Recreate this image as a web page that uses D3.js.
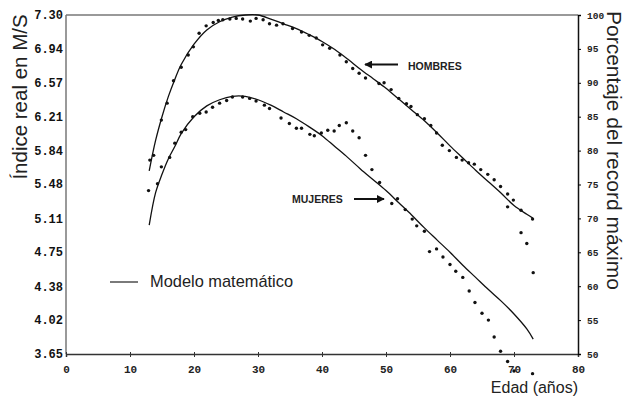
<!DOCTYPE html>
<html>
<head>
<meta charset="utf-8">
<script src="https://cdn.jsdelivr.net/npm/d3@7"></script>
<style>
  html, body { margin: 0; padding: 0; background: #fff; }
  svg { display: block; }
</style>
</head>
<body>
<div id="chart"></div>
<script>
// Model curves (percent of maximum record) by age
const modelAge = [13, 14, 15, 16, 17, 18, 20, 22, 24, 26, 28, 30, 32, 34, 36, 38, 40, 42, 44, 46, 48, 50, 52, 54, 56, 58, 60, 62, 64, 66, 68, 70, 72, 73];
const menModel = [77, 81.5, 85, 88, 90.5, 92.7, 95.7, 97.8, 99, 99.7, 100, 100, 99.4, 98.7, 98.0, 97.1, 96.1, 94.9, 93.5, 92.0, 90.6, 89.2, 87.6, 86.0, 84.4, 82.6, 80.7, 78.9, 77.1, 75.4, 73.7, 71.9, 70.6, 70.0];
const womenModel = [69, 73.8, 76.5, 78.8, 80.6, 82.5, 85, 86.6, 87.5, 88, 88, 87.5, 86.7, 85.7, 84.7, 83.5, 82.2, 80.6, 79.0, 77.3, 75.7, 74.1, 72.3, 70.5, 68.6, 66.8, 65.0, 63.1, 61.3, 59.5, 57.8, 55.9, 53.7, 52.2];

// Observed records (dots)
const menAge = [13.1, 13.7, 14.9, 15.8, 16.8, 18.0, 19.1, 19.9, 20.8, 21.9, 23.0, 23.8, 24.5, 25.6, 26.6, 27.6, 28.8, 29.7, 30.8, 31.8, 32.9, 33.9, 35.4, 36.8, 38.0, 39.1, 40.1, 41.2,
  42.8, 43.8, 44.8, 45.8, 46.8, 48.9, 49.7, 50.8, 52.0, 53.2, 53.9, 54.9, 56.0, 57.0, 57.9, 58.8, 59.9, 61.0, 61.9, 62.9, 63.8, 64.8, 65.9, 66.9, 67.9, 69.0, 69.9, 71.1, 72.9,
  69.0, 71.1, 72.0, 73.0];
const menPct = [78.6, 79.3, 84.5, 87.0, 90.3, 92.3, 94.1, 95.3, 97.3, 98.4, 98.9, 99.2, 99.3, 99.4, 99.5, 99.4, 99.1, 99.5, 99.3, 98.7, 98.5, 98.7, 98.0, 97.5, 97.0, 96.6, 95.6, 95.1,
  94.1, 93.1, 92.1, 91.4, 90.7, 89.9, 90.0, 89.0, 87.7, 86.9, 86.5, 85.3, 84.7, 83.7, 82.6, 80.8, 80.0, 79.0, 78.6, 78.2, 78.0, 77.2, 76.5, 75.7, 74.7, 73.6, 72.7, 71.2, 69.9,
  71.7, 67.9, 66.3, 62.0];

const womenAge = [12.9, 14.3, 14.9, 16.2, 17.0, 18.0, 18.7, 19.8, 20.9, 21.9, 22.9, 24.0, 25.1, 26.0, 27.6, 28.7, 29.7, 31.0, 31.8, 33.6, 34.9, 36.0, 36.8, 38.1, 38.8, 39.9, 40.9,
  41.9, 42.7, 43.8, 44.8, 45.8, 46.8, 47.8, 49.0, 50.9, 51.8, 53.0, 54.1, 54.8, 56.0, 56.8, 57.9, 58.9, 60.0, 60.9, 62.0, 63.0, 63.9, 65.0, 66.0, 66.9, 67.9, 69.0, 70.0, 72.9];
const womenPct = [74.1, 75.1, 77.6, 79.0, 81.1, 82.7, 83.1, 85.0, 85.5, 85.7, 86.4, 87.0, 87.4, 87.9, 87.9, 87.7, 87.3, 86.7, 86.2, 84.8, 84.0, 83.3, 83.3, 82.4, 82.2, 82.6, 83.0,
  82.9, 83.7, 84.1, 82.9, 81.9, 79.3, 77.2, 75.3, 72.2, 72.9, 71.3, 69.9, 68.9, 68.1, 65.1, 65.5, 64.3, 63.2, 62.2, 61.3, 59.3, 57.6, 56.0, 55.0, 52.5, 50.4, 48.9, 47.5, 47.1];

// Tick labels
const xTicks = [0, 10, 20, 30, 40, 50, 60, 70, 80];
const leftTickLabels = ["3.65", "4.02", "4.38", "4.75", "5.11", "5.48", "5.84", "6.21", "6.57", "6.94", "7.30"];
const rightTicks = [50, 55, 60, 65, 70, 75, 80, 85, 90, 95, 100];

const W = 627, H = 398;
const svg = d3.select("#chart").append("svg").attr("width", W).attr("height", H);

const x = d3.scaleLinear().domain([0, 80]).range([66, 578]);
const y = d3.scaleLinear().domain([50, 100]).range([354, 15]);
const yIdx = d3.scaleLinear().domain([3.65, 7.30]).range([354, 15]);

const mono = "'Liberation Mono', 'DejaVu Sans Mono', monospace";
const sans = "'Liberation Sans', Arial, sans-serif";

// frame
svg.append("line").attr("x1", x(0)).attr("x2", x(80)).attr("y1", 15).attr("y2", 15)
  .attr("stroke", "#777").attr("stroke-width", 1.5);
svg.append("line").attr("x1", x(0)).attr("x2", x(0)).attr("y1", 15).attr("y2", 354)
  .attr("stroke", "#777").attr("stroke-width", 1.5);

// bottom axis
const xAxis = svg.append("g").attr("transform", "translate(0,354)")
  .call(d3.axisBottom(x).tickValues(xTicks).tickSize(3).tickFormat(d3.format("d")));
xAxis.select(".domain").attr("stroke", "#333").attr("stroke-width", 1.5);
xAxis.selectAll(".tick line").attr("stroke", "#333").attr("y1", -2).attr("y2", 3);
xAxis.selectAll("text").attr("font-family", mono).attr("font-weight", "bold")
  .attr("font-size", 11).attr("fill", "#222").attr("y", 11);

// left axis (indices)
const leftVals = leftTickLabels.map(Number);
const yLeft = svg.append("g").attr("transform", `translate(${x(0)},0)`)
  .call(d3.axisLeft(yIdx).tickValues(leftVals).tickSize(0).tickPadding(3)
    .tickFormat((d, i) => leftTickLabels[i]));
yLeft.select(".domain").remove();
yLeft.selectAll("text").attr("font-family", mono).attr("font-weight", "bold")
  .attr("font-size", 12).attr("fill", "#111");

// right axis (percent)
const yRight = svg.append("g").attr("transform", `translate(${x(80)},0)`)
  .call(d3.axisRight(y).tickValues(rightTicks).tickSize(3).tickPadding(6));
yRight.select(".domain").attr("stroke", "#111").attr("stroke-width", 1.5);
yRight.selectAll("text").attr("font-family", mono).attr("font-weight", "bold")
  .attr("font-size", 9.5).attr("fill", "#222");

// model curves
const line = d3.line().x(d => x(d[0])).y(d => y(d[1])).curve(d3.curveCatmullRom);
[menModel, womenModel].forEach(series => {
  svg.append("path")
    .datum(modelAge.map((a, i) => [a, series[i]]))
    .attr("d", line)
    .attr("fill", "none")
    .attr("stroke", "#111")
    .attr("stroke-width", 1.3);
});

// observed dots
const dots = [
  ...menAge.map((a, i) => [a, menPct[i]]),
  ...womenAge.map((a, i) => [a, womenPct[i]])
];
svg.append("g").selectAll("circle").data(dots).enter().append("circle")
  .attr("cx", d => x(d[0])).attr("cy", d => y(d[1]))
  .attr("r", 1.7).attr("fill", "#111");

// arrow marker
const defs = svg.append("defs");
defs.append("marker").attr("id", "arr").attr("viewBox", "0 0 10 10")
  .attr("refX", 9).attr("refY", 5).attr("markerWidth", 4).attr("markerHeight", 4)
  .attr("orient", "auto-start-reverse")
  .append("path").attr("d", "M0,0 L10,5 L0,10 z").attr("fill", "#111");

// HOMBRES label
svg.append("line").attr("x1", 398).attr("x2", 365).attr("y1", 64.5).attr("y2", 64.5)
  .attr("stroke", "#111").attr("stroke-width", 2).attr("marker-end", "url(#arr)");
svg.append("text").attr("x", 408).attr("y", 69.5).text("HOMBRES")
  .attr("font-family", sans).attr("font-weight", "bold").attr("font-size", 10.5).attr("fill", "#222");

// MUJERES label
svg.append("line").attr("x1", 354).attr("x2", 384).attr("y1", 199).attr("y2", 199)
  .attr("stroke", "#111").attr("stroke-width", 2).attr("marker-end", "url(#arr)");
svg.append("text").attr("x", 292).attr("y", 203).text("MUJERES")
  .attr("font-family", sans).attr("font-weight", "bold").attr("font-size", 10.5).attr("fill", "#222");

// legend
svg.append("line").attr("x1", 110).attr("x2", 138).attr("y1", 282).attr("y2", 282)
  .attr("stroke", "#222").attr("stroke-width", 1.2);
svg.append("text").attr("x", 150).attr("y", 287).text("Modelo matemático")
  .attr("font-family", sans).attr("font-size", 16.4).attr("fill", "#222");

// axis titles
svg.append("text").attr("transform", "translate(27,97) rotate(-90)")
  .attr("text-anchor", "middle").text("Índice real en M/S")
  .attr("font-family", sans).attr("font-size", 20.5).attr("fill", "#222");
svg.append("text").attr("transform", "translate(607,11) rotate(90)")
  .attr("text-anchor", "start").text("Porcentaje del record máximo")
  .attr("font-family", sans).attr("font-size", 21).attr("fill", "#222");
svg.append("text").attr("x", 578).attr("y", 393).attr("text-anchor", "end").text("Edad (años)")
  .attr("font-family", sans).attr("font-size", 16).attr("fill", "#222");
</script>
</body>
</html>
